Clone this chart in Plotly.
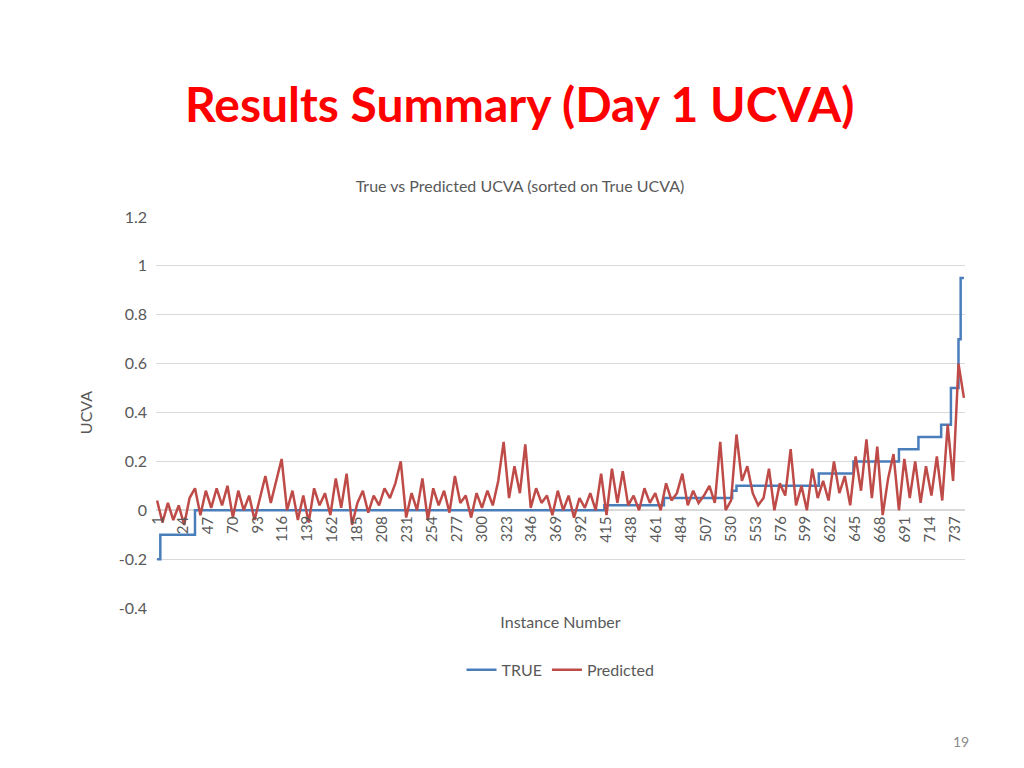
import plotly.graph_objects as go

# TRUE UCVA step breakpoints (instance, value)
true_x = [1, 4, 36, 414, 469, 532, 536, 612, 644, 686, 704, 725, 734, 739, 741, 743, 746]
true_y = [-0.2, -0.1, 0.0, 0.02, 0.05, 0.08, 0.1, 0.15, 0.2, 0.25, 0.3, 0.35, 0.5, 0.5, 0.7, 0.95, 0.95]

# Predicted UCVA, read every 5 instances
pred_vals = [
    0.04, -0.05, 0.03, -0.04, 0.02, -0.06, 0.05,
    0.09, -0.02, 0.08, 0.01, 0.09, 0.02, 0.10,
    -0.03, 0.08, 0.0, 0.06, -0.04, 0.05, 0.14,
    0.03, 0.12, 0.21, 0.0, 0.08, -0.04, 0.06,
    -0.05, 0.09, 0.02, 0.07, -0.02, 0.13, 0.01,
    0.15, -0.06, 0.03, 0.08, -0.01, 0.06, 0.02,
    0.09, 0.05, 0.11, 0.20, -0.03, 0.07, 0.0,
    0.13, -0.04, 0.09, 0.02, 0.08, -0.01, 0.14,
    0.03, 0.06, -0.03, 0.07, 0.01, 0.08, 0.02,
    0.12, 0.28, 0.05, 0.18, 0.07, 0.27, 0.01,
    0.09, 0.03, 0.06, -0.02, 0.08, 0.0, 0.06,
    -0.03, 0.05, 0.01, 0.07, 0.0, 0.15, -0.02,
    0.17, 0.03, 0.16, 0.02, 0.06, 0.0, 0.09,
    0.03, 0.07, 0.0, 0.11, 0.04, 0.07, 0.15,
    0.02, 0.08, 0.03, 0.06, 0.10, 0.03, 0.28,
    0.0, 0.04, 0.31, 0.12, 0.18, 0.07, 0.02,
    0.05, 0.17, 0.0, 0.11, 0.06, 0.25, 0.02,
    0.10, 0.0, 0.17, 0.05, 0.12, 0.04, 0.20,
    0.07, 0.14, 0.02, 0.22, 0.08, 0.29, 0.05,
    0.26, -0.02, 0.13, 0.23, 0.00, 0.21, 0.05,
    0.20, 0.03, 0.18, 0.06, 0.22, 0.04, 0.35,
    0.12, 0.60, 0.46,
]
pred_x = [1 + 5 * i for i in range(len(pred_vals))]

x_ticks = list(range(1, 746, 23))
y_ticks = [-0.4, -0.2, 0, 0.2, 0.4, 0.6, 0.8, 1, 1.2]

grey = "#595959"
fig = go.Figure()
fig.add_trace(go.Scatter(x=true_x, y=true_y, name="TRUE", mode="lines",
                         line=dict(color="#4a7ebb", width=2.5, shape="hv")))
fig.add_trace(go.Scatter(x=pred_x, y=pred_vals, name="Predicted", mode="lines",
                         line=dict(color="#be4b48", width=2.5)))

for t in x_ticks:
    fig.add_annotation(x=t, y=0, yshift=-4, text=str(t), showarrow=False,
                       textangle=-90, xanchor="center", yanchor="top",
                       font=dict(size=15, color=grey))

fig.update_layout(
    width=1024, height=768, paper_bgcolor="white", plot_bgcolor="white",
    font=dict(family="Lato, sans-serif", color=grey),
    margin=dict(l=148, r=67, t=209, b=168, autoexpand=False),
    title=dict(text="True vs Predicted UCVA (sorted on True UCVA)", x=0.5, xanchor="center",
               y=1 - 178 / 768, yanchor="middle", font=dict(size=16, color=grey)),
    xaxis=dict(range=[0, 747], showticklabels=False, showgrid=False, zeroline=False,
               title=dict(text="Instance Number", font=dict(size=16, color=grey), standoff=8)),
    yaxis=dict(range=[-0.4, 1.2], tickvals=y_ticks, ticktext=[f"{v:g}" for v in y_ticks],
               gridcolor="#d9d9d9", zeroline=True, zerolinecolor="#d9d9d9",
               tickfont=dict(size=16, color=grey), ticks="", ticklabelstandoff=8,
               title=dict(text="UCVA", font=dict(size=16, color=grey), standoff=22)),
    legend=dict(orientation="h", x=0.5, xanchor="center", y=-0.115, yanchor="top",
                font=dict(size=16, color=grey)),
    annotations=list(fig.layout.annotations) + [
        dict(text="<b>Results Summary (Day 1 UCVA)</b>", xref="paper", yref="paper",
             x=(512 - 148) / 809, y=(768 - 95 - 168) / 391, showarrow=False,
             font=dict(size=48, color="#ff0000", family="Lato, sans-serif"),
             xanchor="center", yanchor="middle"),
        dict(text="19", xref="paper", yref="paper", x=(953 - 148) / 809,
             y=(768 - 733 - 168) / 391, showarrow=False,
             font=dict(size=14, color="#8c8c8c"), xanchor="center", yanchor="middle"),
    ],
)
fig.write_html("out.html")
